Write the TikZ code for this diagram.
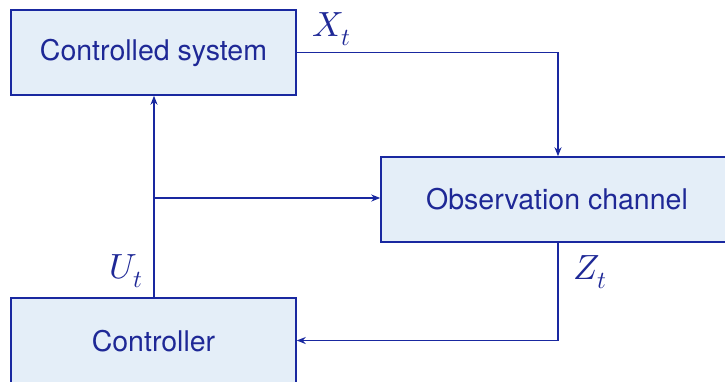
\documentclass[tikz,border=0pt]{standalone}
\usepackage{fontspec}
\setmainfont{TeX Gyre Heros}
\usepackage{unicode-math}
\setmathfont{Latin Modern Math}
\usetikzlibrary{arrows.meta}
\definecolor{lineblue}{RGB}{25,40,160}
\definecolor{textblue}{RGB}{30,40,150}
\definecolor{boxfill}{RGB}{228,238,248}
\tikzset{
  blockbox/.style={draw=lineblue, fill=boxfill, line width=1.5pt, text=textblue, inner sep=0pt, font=\fontsize{28.5}{34}\selectfont},
  conn/.style={draw=lineblue, line width=1.5pt},
  arr/.style={conn, -{Stealth[length=9pt,width=7pt]}},
  lbl/.style={text=textblue, font=\fontsize{35}{40}\selectfont}
}
\begin{document}
\begin{tikzpicture}[x=1pt,y=-1pt]
\useasboundingbox (0,0) rectangle (725,381);
\node[blockbox, minimum width=285pt, minimum height=85pt] (sys) at (153.5,52.5) {Controlled system};
\node[blockbox, minimum width=370pt, minimum height=85pt] (obs) at (566,199.5) {};
\node[text=textblue, font=\fontsize{28.5}{34}\selectfont] (obstext) at (557,199.5) {Observation channel};
\node[blockbox, minimum width=285pt, minimum height=85pt] (ctl) at (153.5,340.5) {};
\node[text=textblue, font=\fontsize{28.5}{34}\selectfont] (ctltext) at (153.5,341) {Controller};
\coordinate (xc) at (558,52.5);
\coordinate (zc) at (558,340.5);
\coordinate (br) at (154,198);
\draw[arr] (sys.east) -- (xc) -- (xc |- obs.north);
\draw[arr] (zc |- obs.south) -- (zc) -- (ctl.east);
\draw[arr] (ctl.north -| br) -- (br |- sys.south);
\draw[arr] (br) -- (br -| obs.west);
\node[lbl] (xl) at (332,29) {$X_t$};
\node[lbl] (zl) at (590,272) {$Z_t$};
\node[lbl] (ul) at (126,271) {$U_t$};
\end{tikzpicture}
\end{document}
